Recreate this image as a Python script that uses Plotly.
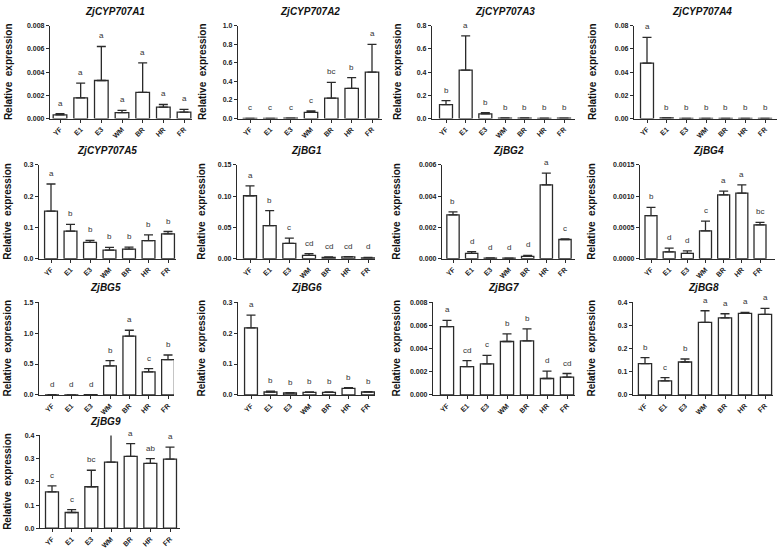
import plotly.graph_objects as go

categories = ["YF", "E1", "E3", "WM", "BR", "HR", "FR"]

gene_names = ["ZjCYP707A1", "ZjCYP707A2", "ZjCYP707A3", "ZjCYP707A4",
              "ZjCYP707A5", "ZjBG1", "ZjBG2", "ZjBG4",
              "ZjBG5", "ZjBG6", "ZjBG7", "ZjBG8", "ZjBG9"]

cyp707a1_mean = [0.00031, 0.00178, 0.00328, 0.00051, 0.00226, 0.00099, 0.00056]
cyp707a1_err = [0.00011, 0.00127, 0.00293, 0.00020, 0.00254, 0.00022, 0.00023]
cyp707a1_sig = ["a", "a", "a", "a", "a", "a", "a"]

cyp707a2_mean = [0.001, 0.001, 0.004, 0.067, 0.22, 0.325, 0.50]
cyp707a2_err = [0.0, 0.0, 0.001, 0.014, 0.17, 0.115, 0.30]
cyp707a2_sig = ["c", "c", "c", "c", "bc", "b", "a"]

cyp707a3_mean = [0.119, 0.418, 0.040, 0.004, 0.004, 0.002, 0.003]
cyp707a3_err = [0.036, 0.294, 0.011, 0.001, 0.001, 0.0005, 0.001]
cyp707a3_sig = ["b", "a", "b", "b", "b", "b", "b"]

cyp707a4_mean = [0.0477, 0.0005, 0.0002, 0.0002, 0.0002, 0.0002, 0.0002]
cyp707a4_err = [0.0223, 0.0001, 0.0, 0.0, 0.0, 0.0, 0.0]
cyp707a4_sig = ["a", "b", "b", "b", "b", "b", "b"]

cyp707a5_mean = [0.152, 0.088, 0.052, 0.0276, 0.031, 0.058, 0.0795]
cyp707a5_err = [0.087, 0.022, 0.007, 0.0084, 0.006, 0.018, 0.0075]
cyp707a5_sig = ["a", "b", "b", "b", "b", "b", "b"]

bg1_mean = [0.1007, 0.053, 0.0244, 0.0053, 0.002, 0.003, 0.0015]
bg1_err = [0.0159, 0.024, 0.0086, 0.0027, 0.001, 0.0005, 0.0005]
bg1_sig = ["a", "b", "c", "cd", "cd", "cd", "d"]

bg2_mean = [0.0028, 0.00034, 0.00004, 0.00003, 0.00015, 0.00473, 0.00123]
bg2_err = [0.0002, 0.00011, 0.00002, 0.00001, 0.00006, 0.00074, 0.00004]
bg2_sig = ["b", "d", "d", "d", "d", "a", "c"]

bg4_mean = [0.00069, 0.000111, 0.000085, 0.000445, 0.00102, 0.00105, 0.00054]
bg4_err = [0.00013, 0.000059, 0.000042, 0.000155, 0.00006, 0.00013, 0.00004]
bg4_sig = ["b", "d", "d", "c", "a", "a", "bc"]

bg5_mean = [0.003, 0.002, 0.004, 0.47, 0.95, 0.374, 0.571]
bg5_err = [0.001, 0.001, 0.001, 0.085, 0.096, 0.053, 0.075]
bg5_sig = ["d", "d", "d", "b", "a", "c", "b"]

bg6_mean = [0.217, 0.0096, 0.0064, 0.0085, 0.0085, 0.0214, 0.0096]
bg6_err = [0.041, 0.0024, 0.0011, 0.0011, 0.0011, 0.0021, 0.0014]
bg6_sig = ["a", "b", "b", "b", "b", "b", "b"]

bg7_mean = [0.00589, 0.00245, 0.00268, 0.00461, 0.00467, 0.00142, 0.00154]
bg7_err = [0.00054, 0.00051, 0.00074, 0.00066, 0.00102, 0.00063, 0.00031]
bg7_sig = ["a", "cd", "c", "b", "b", "d", "cd"]

bg8_mean = [0.135, 0.061, 0.142, 0.313, 0.332, 0.352, 0.347]
bg8_err = [0.026, 0.014, 0.013, 0.050, 0.018, 0.004, 0.026]
bg8_sig = ["b", "c", "b", "a", "a", "a", "a"]

bg9_mean = [0.157, 0.068, 0.179, 0.285, 0.31, 0.28, 0.298]
bg9_err = [0.026, 0.012, 0.071, 0.125, 0.055, 0.02, 0.052]
bg9_sig = ["c", "c", "bc", "ab", "a", "ab", "a"]

y_max = [0.008, 1.0, 0.8, 0.08, 0.3, 0.15, 0.006, 0.0015, 1.5, 0.3, 0.008, 0.4, 0.4]
y_dtick = [0.002, 0.2, 0.2, 0.02, 0.1, 0.05, 0.002, 0.0005, 0.5, 0.1, 0.002, 0.1, 0.1]
y_fmt = [".3f", ".1f", ".1f", ".2f", ".1f", ".2f", ".3f", ".4f", ".1f", ".1f", ".3f", ".1f", ".1f"]

all_means = [cyp707a1_mean, cyp707a2_mean, cyp707a3_mean, cyp707a4_mean, cyp707a5_mean,
             bg1_mean, bg2_mean, bg4_mean, bg5_mean, bg6_mean, bg7_mean, bg8_mean, bg9_mean]
all_errs = [cyp707a1_err, cyp707a2_err, cyp707a3_err, cyp707a4_err, cyp707a5_err,
            bg1_err, bg2_err, bg4_err, bg5_err, bg6_err, bg7_err, bg8_err, bg9_err]
all_sigs = [cyp707a1_sig, cyp707a2_sig, cyp707a3_sig, cyp707a4_sig, cyp707a5_sig,
            bg1_sig, bg2_sig, bg4_sig, bg5_sig, bg6_sig, bg7_sig, bg8_sig, bg9_sig]

# ---------- layout geometry (pixels) ----------
W, H = 778, 551
# axis left, axis right, first bar center, last bar center
geom = [
    (50, 192, 60, 184), (238, 382, 250, 372), (432, 575, 446, 564), (634, 777, 647, 765),
    (39, 176, 51, 168), (237, 375, 250, 368), (442, 575, 453, 565), (640, 775, 651, 760),
    (39, 174, 52, 168), (238, 375, 251, 368), (433, 575, 447, 567), (633, 773, 645, 765),
    (40, 180, 52, 170),
]
title_cx = [115, 310, 505, 702, 107, 306, 508, 708, 106, 306, 504, 703, 106]
rows = [(22, 116, 8), (163, 258, 148), (302, 396, 287), (437, 531, 423)]
ytitle_x = [8, 202, 397, 592]

AX = "#2b2b2b"
FONT = "Liberation Sans, Arial, sans-serif"

fig = go.Figure()
layout = dict(
    width=W, height=H,
    margin=dict(l=0, r=0, t=0, b=0),
    paper_bgcolor="white", plot_bgcolor="white",
    showlegend=False,
    font=dict(family=FONT, color="#222"),
)
annotations = []

for i, name in enumerate(gene_names):
    n = i + 1
    sfx = "" if n == 1 else str(n)
    row, col = divmod(i, 4)
    top, bot, ttl = rows[row]
    L, R, c0, c6 = geom[i]
    s = (c6 - c0) / 6.0
    xr = [(L - c0) / s, (R - c0) / s]

    fig.add_trace(go.Bar(
        x=categories, y=all_means[i],
        xaxis="x" + sfx, yaxis="y" + sfx,
        marker=dict(color="white", line=dict(color=AX, width=1.3)),
        width=0.66,
        error_y=dict(type="data", array=all_errs[i], arrayminus=[0] * 7,
                     symmetric=False, color=AX, thickness=1.3, width=4.5),
        cliponaxis=False,
    ))

    layout["xaxis" + sfx] = dict(
        domain=[L / W, R / W], anchor="y" + sfx, range=xr,
        type="category", categoryorder="array", categoryarray=categories,
        showline=True, linecolor=AX, linewidth=1.3,
        ticks="outside", ticklen=3, tickcolor=AX, tickwidth=1,
        tickangle=-45, tickfont=dict(size=7, family=FONT, weight="bold", color="#222"),
        showgrid=False, zeroline=False, fixedrange=True,
    )
    layout["yaxis" + sfx] = dict(
        domain=[1 - bot / H, 1 - top / H], anchor="x" + sfx,
        range=[0, y_max[i]], dtick=y_dtick[i], tick0=0, tickformat=y_fmt[i],
        showline=True, linecolor=AX, linewidth=1.3,
        ticks="outside", ticklen=3, tickcolor=AX, tickwidth=1,
        tickfont=dict(size=7, family=FONT, weight="bold", color="#222"),
        showgrid=False, zeroline=False, fixedrange=True,
    )

    # panel title
    annotations.append(dict(
        text="<b><i>%s</i></b>" % name, xref="paper", yref="paper",
        x=title_cx[i] / W, y=1 - ttl / H, xanchor="center", yanchor="middle",
        showarrow=False, font=dict(size=10, family=FONT, color="#111"),
    ))
    # y-axis title
    annotations.append(dict(
        text="<b>Relative  expression</b>", xref="paper", yref="paper",
        x=ytitle_x[col] / W, y=1 - ((top + bot) / 2) / H,
        xanchor="center", yanchor="middle", textangle=-90,
        showarrow=False, font=dict(size=10, family=FONT, color="#111"),
    ))
    # significance letters
    for cat, m, e, lt in zip(categories, all_means[i], all_errs[i], all_sigs[i]):
        annotations.append(dict(
            text=lt, xref="x" + sfx, yref="y" + sfx, x=cat, y=m + e,
            xanchor="center", yanchor="bottom", yshift=4, showarrow=False,
            font=dict(size=8, family=FONT, color="#333"),
        ))

layout["annotations"] = annotations
fig.update_layout(**layout)
fig.write_html("out.html", config={"displayModeBar": False},
               post_script="document.body.style.margin='0px';document.body.style.overflow='hidden';")
